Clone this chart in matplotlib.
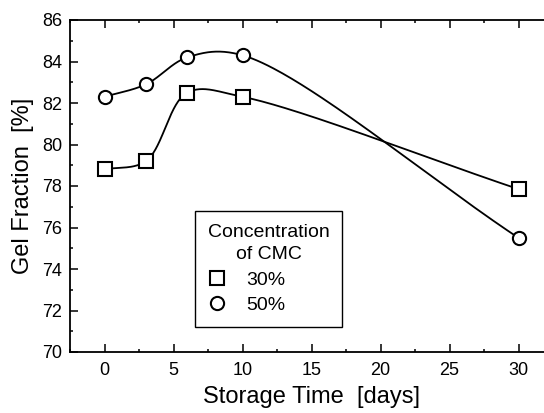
import numpy as np
import matplotlib
matplotlib.use("Agg")
import matplotlib.pyplot as plt
from matplotlib.ticker import MultipleLocator

plt.rcParams['font.family'] = ['Liberation Sans', 'DejaVu Sans']

# storage time in days and gel fraction in %
days = [0, 3, 6, 10, 30]
gel_30 = [78.8, 79.2, 82.5, 82.3, 77.85]
gel_50 = [82.3, 82.9, 84.2, 84.3, 75.5]
legend_title = "Concentration\nof CMC"
labels = ["30%", "50%"]

# pixels per unit on each axis, used so the spline works in screen space
PX_X, PX_Y = 13.8, 20.73


def catmull_rom(x, y, alpha=0.5, n_seg=80):
    # centripetal Catmull-Rom through the points (Barry-Goldman form)
    P = np.column_stack([np.asarray(x, float) * PX_X,
                         np.asarray(y, float) * PX_Y])
    P = np.vstack([2 * P[0] - P[1], P, 2 * P[-1] - P[-2]])
    out = []
    for i in range(1, len(P) - 2):
        p0, p1, p2, p3 = P[i - 1], P[i], P[i + 1], P[i + 2]
        t0 = 0.0
        t1 = t0 + np.linalg.norm(p1 - p0) ** alpha
        t2 = t1 + np.linalg.norm(p2 - p1) ** alpha
        t3 = t2 + np.linalg.norm(p3 - p2) ** alpha
        t = np.linspace(t1, t2, n_seg)[:, None]
        a1 = (t1 - t) / (t1 - t0) * p0 + (t - t0) / (t1 - t0) * p1
        a2 = (t2 - t) / (t2 - t1) * p1 + (t - t1) / (t2 - t1) * p2
        a3 = (t3 - t) / (t3 - t2) * p2 + (t - t2) / (t3 - t2) * p3
        b1 = (t2 - t) / (t2 - t0) * a1 + (t - t0) / (t2 - t0) * a2
        b2 = (t3 - t) / (t3 - t1) * a2 + (t - t1) / (t3 - t1) * a3
        out.append((t2 - t) / (t2 - t1) * b1 + (t - t1) / (t2 - t1) * b2)
    c = np.vstack(out)
    return c[:, 0] / PX_X, c[:, 1] / PX_Y


fig = plt.figure(figsize=(5.44, 4.13), dpi=100)
# x from -2.5 to 32.5, left spine at 70 px, right side runs off the figure
ax = fig.add_axes([70 / 544, (413 - 352) / 413, 483 / 544, 332 / 413])

for vals, mk, lab in [(gel_30, 's', labels[0]), (gel_50, 'o', labels[1])]:
    gx, gy = catmull_rom(days, vals)
    ax.plot(gx, gy, color='black', lw=1.3)
    ax.plot(days, vals, linestyle='none', marker=mk, markersize=9.5,
            markerfacecolor='white', markeredgecolor='black',
            markeredgewidth=1.5, label=lab)

ax.set_xlim(-2.5, 32.5)
ax.set_ylim(70, 86)
ax.xaxis.set_major_locator(MultipleLocator(5))
ax.xaxis.set_minor_locator(MultipleLocator(2.5))
ax.yaxis.set_major_locator(MultipleLocator(2))
ax.yaxis.set_minor_locator(MultipleLocator(1))
ax.tick_params(which='both', direction='in', top=True, right=True,
               labelsize=13, width=1.1)
ax.tick_params(which='major', length=5.5)
ax.tick_params(which='minor', length=2.5)
ax.tick_params(axis='x', which='major', pad=7)
ax.tick_params(axis='y', which='major', pad=5.5)
for s in ax.spines.values():
    s.set_linewidth(1.3)

ax.set_xlabel("Storage Time  [days]", fontsize=17, labelpad=5)
ax.set_ylabel("Gel Fraction  [%]", fontsize=17, labelpad=6)

leg = ax.legend(title=legend_title, loc='upper left',
                bbox_to_anchor=((195 - 70) / 483, (352 - 211) / 332),
                fontsize=14, title_fontsize=14, frameon=True, fancybox=False,
                edgecolor='black', borderpad=0.65, handlelength=1.0,
                handletextpad=1.0, labelspacing=0.4, borderaxespad=0,
                framealpha=1, alignment='left')
leg.get_frame().set_linewidth(1.0)
leg.get_title().set_multialignment('center')
leg.get_title().set_linespacing(1.45)

fig.savefig("out.png", dpi=100)
